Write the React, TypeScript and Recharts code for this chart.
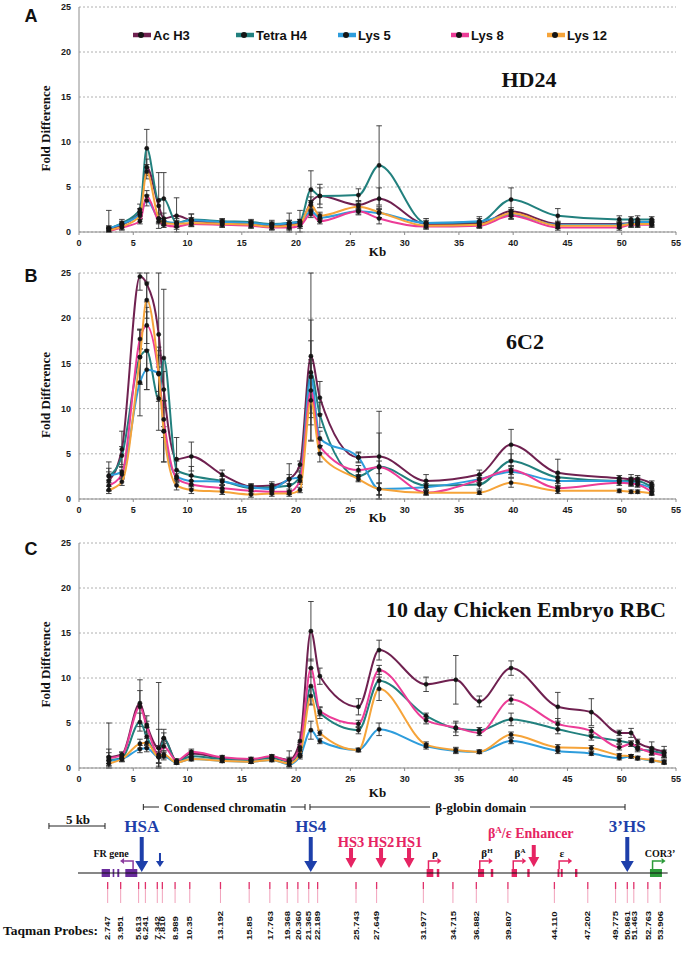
import React from 'react';
import {
  LineChart, Line, XAxis, YAxis, CartesianGrid, ErrorBar,
  ScatterChart, Scatter, ReferenceLine, ReferenceArea,
} from 'recharts';

const F_SERIF = '"Liberation Serif","Times New Roman",serif';
const F_SANS = '"Liberation Sans",Arial,sans-serif';

// ---------- categories ----------
const seriesNames = ['Ac H3', 'Tetra H4', 'Lys 5', 'Lys 8', 'Lys 12'];
const seriesKeys = ['acH3', 'tetraH4', 'lys5', 'lys8', 'lys12'];
const seriesColors = ['#6F2150', '#22807E', '#2E9DDC', '#EC3C97', '#F6A43A'];
const xTicks = [0, 5, 10, 15, 20, 25, 30, 35, 40, 45, 50, 55];
const yTicks = [0, 5, 10, 15, 20, 25];
const Y_MAX = 25;

// ---------- probe positions (kb) ----------
const probeLabels = ['2.747', '3.951', '5.613', '6.241', '7.342', '7.810', '8.989', '10.35', '13.192', '15.85', '17.763', '19.368', '20.360', '21.365', '22.189', '25.743', '27.649', '31.977', '34.715', '36.882', '39.807', '44.110', '47.202', '49.775', '50.861', '51.463', '52.763', '53.906'];
const probeKb = probeLabels.map(Number);
const kbAB = [2.747, 3.951, 5.613, 6.241, 7.342, 7.81, 8.989, 10.35, 13.192, 15.85, 17.763, 19.368, 20.36, 21.365, 22.189, 25.743, 27.649, 31.977, 36.882, 39.807, 44.11, 49.775, 50.861, 51.463, 52.763];
const kbC = probeKb;

// ---------- panel A (HD24) ----------
const aAcH3 = [0.3, 0.8, 2.2, 7.2, 2.9, 1.5, 1.8, 1.3, 1.0, 0.9, 0.7, 0.8, 1.0, 3.3, 4.0, 3.0, 3.7, 0.9, 0.9, 2.3, 0.9, 0.9, 1.0, 1.0, 1.0];
const aTetraH4 = [0.4, 1.0, 2.5, 9.3, 3.5, 3.7, 1.0, 1.4, 1.2, 1.1, 0.9, 1.0, 1.2, 4.7, 4.0, 4.1, 7.4, 1.0, 1.1, 3.6, 1.8, 1.4, 1.4, 1.4, 1.4];
const aLys5 = [0.4, 0.9, 2.0, 3.5, 1.5, 1.2, 1.0, 1.3, 1.1, 1.0, 0.8, 1.0, 1.1, 2.3, 1.6, 2.3, 2.1, 1.0, 1.2, 1.9, 0.8, 0.8, 1.0, 1.1, 1.1];
const aLys8 = [0.1, 0.5, 1.2, 4.0, 1.2, 0.8, 0.6, 0.9, 0.8, 0.7, 0.5, 0.5, 0.7, 2.0, 1.2, 2.3, 1.5, 0.6, 0.7, 1.8, 0.5, 0.5, 0.8, 0.8, 0.8];
const aLys12 = [0.2, 0.6, 1.8, 6.7, 1.5, 1.0, 0.9, 1.0, 0.9, 0.8, 0.6, 0.7, 0.9, 3.0, 1.8, 2.8, 2.2, 0.7, 0.8, 2.1, 0.7, 0.7, 0.9, 0.9, 0.9];
const aAcH3Err = [0.3, 0.3, 0.4, 0.9, 0.8, 0.6, 2.0, 0.7, 0.3, 0.3, 0.4, 0.5, 0.4, 0.6, 1.3, 0.5, 1.2, 0.3, 0.3, 0.4, 0.3, 0.3, 0.3, 0.3, 0.3];
const aTetraH4Err = [2.0, 0.4, 0.6, 2.1, 3.1, 2.9, 0.5, 0.6, 0.3, 0.3, 0.4, 1.1, 1.2, 2.1, 0.9, 0.7, 4.4, 0.5, 0.6, 1.3, 0.8, 0.4, 0.3, 0.4, 0.3];
const aLys5Err = [0.3, 0.3, 0.3, 0.6, 0.4, 0.3, 0.3, 0.3, 0.3, 0.3, 0.3, 0.3, 0.3, 0.5, 0.4, 0.4, 0.5, 0.3, 0.3, 0.4, 0.3, 0.3, 0.3, 0.3, 0.3];
const aLys8Err = [0.3, 0.3, 0.3, 0.6, 0.3, 0.3, 0.3, 0.3, 0.3, 0.3, 0.3, 0.3, 0.3, 0.4, 0.3, 0.3, 0.6, 0.3, 0.3, 0.4, 0.3, 0.3, 0.3, 0.3, 0.3];
const aLys12Err = [0.3, 0.3, 0.4, 0.8, 0.5, 0.3, 0.3, 0.3, 0.3, 0.3, 0.3, 0.3, 0.3, 0.5, 0.4, 0.4, 0.6, 0.3, 0.3, 0.4, 0.3, 0.3, 0.3, 0.3, 0.3];

// ---------- panel B (6C2) ----------
const bAcH3 = [2.0, 5.5, 24.6, 23.8, 18.2, 12.1, 4.4, 4.7, 2.7, 1.4, 1.5, 2.2, 3.8, 15.8, 11.2, 4.6, 4.7, 2.0, 2.7, 6.0, 2.9, 2.3, 2.2, 2.2, 1.7];
const bTetraH4 = [2.5, 4.8, 15.7, 16.4, 11.1, 15.6, 3.2, 2.6, 2.0, 1.2, 1.3, 1.5, 2.5, 14.0, 9.3, 2.5, 3.6, 1.5, 1.6, 4.2, 2.4, 2.0, 2.0, 2.0, 1.3];
const bLys5 = [2.6, 3.0, 12.9, 14.3, 13.9, 7.5, 2.5, 2.0, 1.9, 1.3, 1.1, 2.2, 2.4, 13.5, 6.7, 4.6, 1.1, 1.3, 2.2, 3.0, 2.0, 2.0, 1.8, 1.7, 1.2];
const bLys8 = [1.5, 2.7, 17.7, 19.2, 13.8, 8.8, 2.3, 1.6, 1.2, 0.9, 0.8, 0.8, 2.0, 12.0, 5.8, 3.2, 3.5, 0.7, 2.1, 3.2, 1.2, 1.8, 1.7, 1.6, 0.8];
const bLys12 = [1.0, 1.9, 15.7, 22.0, 13.9, 7.5, 1.5, 1.0, 0.8, 0.5, 0.6, 0.6, 1.0, 10.9, 5.0, 2.2, 1.1, 0.7, 0.7, 1.8, 0.9, 0.9, 0.8, 0.8, 0.6];
const bAcH3Err = [1.0, 2.0, 1.5, 2.0, 6.8, 2.0, 2.4, 1.6, 0.5, 0.3, 0.4, 0.5, 0.4, 9.3, 1.8, 0.6, 5.0, 0.7, 0.5, 1.7, 1.5, 0.3, 0.5, 0.4, 0.3];
const bTetraH4Err = [1.6, 1.0, 3.0, 4.3, 3.5, 7.6, 1.0, 1.0, 0.5, 0.3, 0.4, 0.8, 0.7, 5.8, 1.4, 0.5, 3.7, 0.5, 0.5, 0.8, 0.4, 0.3, 0.4, 0.4, 0.3];
const bLys5Err = [0.8, 0.6, 3.7, 2.2, 2.0, 3.4, 0.6, 0.5, 0.3, 0.3, 0.3, 1.7, 0.6, 4.0, 0.8, 0.5, 0.6, 0.4, 0.4, 0.6, 0.3, 0.3, 0.3, 0.3, 0.3];
const bLys8Err = [0.6, 0.5, 1.1, 2.0, 3.0, 2.0, 0.5, 0.4, 0.3, 0.3, 0.3, 0.3, 0.4, 3.0, 0.7, 0.5, 0.7, 0.3, 0.3, 0.5, 0.3, 0.3, 0.3, 0.3, 0.3];
const bLys12Err = [0.4, 0.4, 3.0, 2.0, 2.5, 3.4, 0.5, 0.4, 0.3, 0.3, 0.3, 0.3, 0.3, 4.5, 0.9, 0.3, 0.7, 0.2, 0.2, 0.5, 0.3, 0.2, 0.2, 0.2, 0.2];

// ---------- panel C (10 day Chicken Embryo RBC) ----------
const cAcH3 = [1.2, 1.5, 7.2, 4.8, 2.2, 3.3, 0.8, 1.6, 1.1, 0.9, 1.2, 0.9, 3.0, 15.2, 10.2, 6.8, 13.1, 9.3, 9.8, 7.4, 11.1, 6.8, 6.2, 3.9, 3.9, 2.9, 2.2, 1.8];
const cTetraH4 = [0.9, 1.1, 5.1, 3.5, 1.3, 3.3, 0.7, 1.3, 1.0, 0.9, 1.1, 0.7, 2.0, 9.1, 6.1, 4.2, 9.7, 5.8, 4.4, 4.2, 5.4, 4.3, 3.5, 3.0, 2.7, 2.1, 1.9, 1.6];
const cLys5 = [0.8, 1.0, 2.1, 2.2, 1.2, 1.3, 0.6, 1.0, 0.8, 0.7, 0.9, 0.4, 1.3, 4.2, 3.0, 2.0, 4.3, 2.4, 1.9, 1.8, 3.0, 1.9, 1.6, 1.1, 1.3, 1.1, 0.8, 0.7];
const cLys8 = [1.1, 1.4, 6.8, 4.6, 1.5, 2.4, 0.8, 1.8, 1.2, 1.0, 1.3, 0.8, 2.3, 11.1, 6.3, 4.9, 10.9, 5.3, 4.5, 3.9, 7.6, 4.9, 4.1, 2.3, 2.7, 2.3, 1.7, 1.4];
const cLys12 = [0.5, 1.0, 2.7, 2.8, 1.2, 1.5, 0.6, 1.0, 0.8, 0.7, 0.9, 0.5, 1.5, 8.0, 3.9, 2.0, 8.8, 2.6, 2.0, 1.8, 3.7, 2.3, 2.2, 1.4, 1.3, 1.1, 0.9, 0.6];
const cAcH3Err = [3.8, 0.3, 2.6, 1.0, 7.3, 1.0, 0.2, 0.3, 0.2, 0.2, 0.2, 1.0, 1.0, 3.3, 0.9, 0.9, 1.1, 0.8, 2.7, 0.6, 0.8, 1.6, 1.5, 0.3, 0.5, 0.3, 0.7, 0.6];
const cTetraH4Err = [1.2, 0.3, 1.0, 1.0, 3.0, 0.6, 0.2, 0.3, 0.2, 0.2, 0.2, 0.5, 0.6, 2.0, 0.6, 0.4, 1.0, 0.3, 0.8, 0.3, 0.7, 0.5, 0.4, 0.3, 0.3, 0.3, 0.4, 0.4];
const cLys5Err = [0.5, 0.3, 0.4, 0.4, 1.0, 0.4, 0.2, 0.2, 0.2, 0.2, 0.2, 0.3, 0.3, 1.0, 0.3, 0.2, 0.7, 0.3, 0.3, 0.2, 0.3, 0.3, 0.2, 0.2, 0.2, 0.2, 0.2, 0.2];
const cLys8Err = [0.6, 0.3, 1.8, 0.6, 1.0, 0.5, 0.2, 0.3, 0.2, 0.2, 0.2, 0.3, 0.5, 1.0, 0.5, 0.4, 0.5, 0.4, 0.5, 0.3, 0.5, 0.6, 0.4, 0.3, 0.3, 0.3, 0.3, 0.3];
const cLys12Err = [0.3, 0.3, 0.5, 0.5, 0.6, 0.4, 0.2, 0.2, 0.2, 0.2, 0.2, 0.3, 0.3, 1.0, 0.3, 0.2, 1.3, 0.3, 0.3, 0.2, 0.3, 0.3, 0.3, 0.2, 0.2, 0.2, 0.2, 0.2];

// ---------- genomic map features (kb) ----------
const blueSiteNames = ['HSA', 'HS4', '3\u2019HS'];
const blueSiteKb = [5.9, 21.55, 50.86];
const pinkSiteNames = ['HS3', 'HS2', 'HS1'];
const pinkSiteKb = [25.28, 28.06, 30.65];
const enhancerKb = [42.2];
const minorSiteKb = [7.59];
const frExons = [[2.19, 2.96], [3.21, 3.36], [3.64, 3.82], [4.38, 5.49]];
const globinExons = [[32.28, 32.9], [33.22, 33.45], [37.04, 37.6], [38.22, 38.45], [40.15, 40.65], [41.6, 41.82], [44.4, 44.58], [44.7, 44.88], [46.02, 46.24]];
const corExons = [[52.96, 54.07]];
const geneLabelBase = ['FR gene', '\u03C1', '\u03B2', '\u03B2', '\u03B5', 'COR3\u2019'];
const geneLabelSup = ['', '', 'H', 'A', '', ''];
const geneLabelKb = [3.06, 33.06, 37.87, 40.93, 44.8, 53.9];
const promoterKb = [5.1, 32.45, 37.2, 40.3, 44.55, 53.2];
const promoterDir = [-1, 1, 1, 1, 1, 1];
const promoterColor = ['#8B3A9E', '#E62463', '#E62463', '#E62463', '#E62463', '#2D9B3A'];
const bracketNames = ['Condensed chromatin', '\u03B2-globin domain'];
const bracketStart = [6.05, 21.48];
const bracketEnd = [21.02, 50.65];
const bracketTextKb = [13.6, 37.3];
const bracketGapStart = [7.5, 32.6];
const bracketGapEnd = [19.7, 41.85];

// error bars are cut at the plotted range (0..25), as in the original figure
function buildRows(kb: number[], values: number[][], errors: number[][]) {
  return kb.map((k, i) => {
    const row: any = { kb: k };
    seriesKeys.forEach((key, s) => {
      const v = values[s][i];
      const e = errors[s][i];
      row[key] = v;
      row[key + 'Err'] = [Math.min(e, v), Math.min(e, Y_MAX - v)];
    });
    return row;
  });
}

const rowsA = buildRows(kbAB, [aAcH3, aTetraH4, aLys5, aLys8, aLys12], [aAcH3Err, aTetraH4Err, aLys5Err, aLys8Err, aLys12Err]);
const rowsB = buildRows(kbAB, [bAcH3, bTetraH4, bLys5, bLys8, bLys12], [bAcH3Err, bTetraH4Err, bLys5Err, bLys8Err, bLys12Err]);
const rowsC = buildRows(kbC, [cAcH3, cTetraH4, cLys5, cLys8, cLys12], [cAcH3Err, cTetraH4Err, cLys5Err, cLys8Err, cLys12Err]);

const tickStyle = { fontSize: 9, fontWeight: 700, fill: '#1a1a1a', fontFamily: F_SANS };

function Panel({ rows, top, height, marginTop, axisHeight, kbDy }: any) {
  const kbLabel = (p: any) => {
    const vb = (p && p.viewBox) || { x: 79, y: height - axisHeight, width: 597, height: axisHeight };
    return (
      <text x={vb.x + vb.width / 2} y={vb.y + kbDy + 4.5} textAnchor="middle" fontFamily={F_SERIF} fontWeight={700} fontSize={13} fill="#111">Kb</text>
    );
  };
  const foldLabel = (p: any) => {
    const vb = (p && p.viewBox) || { x: 0, y: marginTop, width: 79, height: height - marginTop - axisHeight };
    const cy = vb.y + vb.height / 2 + 9;
    return (
      <text x={45} y={cy} transform={`rotate(-90 45 ${cy})`} textAnchor="middle" dominantBaseline="central" fontFamily={F_SERIF} fontWeight={700} fontSize={13} fill="#111">Fold Difference</text>
    );
  };
  return (
    <div style={{ position: 'absolute', left: 0, top, width: 693, height }}>
      <LineChart width={693} height={height} data={rows} margin={{ top: marginTop, right: 17, bottom: 0, left: 0 }}>
        <CartesianGrid vertical={false} stroke="#9c9c9c" strokeDasharray="2 2" strokeWidth={0.8} />
        <XAxis type="number" dataKey="kb" domain={[0, 55]} ticks={xTicks} allowDataOverflow height={axisHeight}
          tickSize={3} tickMargin={5} stroke="#8c8c8c" tick={tickStyle} label={kbLabel} />
        <YAxis type="number" domain={[0, Y_MAX]} ticks={yTicks} allowDataOverflow width={79}
          tickLine={false} stroke="#8c8c8c" tick={tickStyle} label={foldLabel} />
        {seriesKeys.map((key, s) => (
          <Line key={key} type="monotone" dataKey={key} name={seriesNames[s]} stroke={seriesColors[s]} strokeWidth={2}
            dot={{ r: 2.1, fill: '#151515', stroke: '#151515', strokeWidth: 0.5 }} activeDot={false} isAnimationActive={false}>
            <ErrorBar dataKey={key + 'Err'} width={2.8} stroke="#333" strokeWidth={0.9} isAnimationActive={false} />
          </Line>
        ))}
      </LineChart>
    </div>
  );
}

function arrowPts(cx: number, top: number, tip: number, sw: number, hw: number, hh: number) {
  return [
    [cx - sw / 2, top], [cx + sw / 2, top], [cx + sw / 2, tip - hh], [cx + hw / 2, tip - hh],
    [cx, tip], [cx - hw / 2, tip - hh], [cx - sw / 2, tip - hh],
  ].map((p) => p.join(',')).join(' ');
}

const BLUE = '#1D3FAA';
const PINK = '#E62463';

function GeneMap() {
  const probeRows = probeKb.map((kb, i) => ({ kb, y: 82, label: probeLabels[i] }));
  const blueRows = blueSiteKb.map((kb, i) => ({ kb, y: 72, name: blueSiteNames[i] }));
  const pinkRows = pinkSiteKb.map((kb, i) => ({ kb, y: 68, name: pinkSiteNames[i] }));
  const enhRows = enhancerKb.map((kb) => ({ kb, y: 67 }));
  const minorRows = minorSiteKb.map((kb) => ({ kb, y: 67 }));
  const geneRows = geneLabelKb.map((kb, i) => ({ kb, y: 57, base: geneLabelBase[i], sup: geneLabelSup[i] }));
  const promRows = promoterKb.map((kb, i) => ({ kb, y: 69, dir: promoterDir[i], color: promoterColor[i] }));
  const bracketRows = bracketTextKb.map((kb, i) => ({ kb, y: 7, name: bracketNames[i] }));
  const scaleRows = [{ kb: 0, y: 26 }];

  return (
    <div style={{ position: 'absolute', left: 0, top: 800, width: 693, height: 153 }}>
      <ScatterChart width={693} height={153} margin={{ top: 0, right: 21, bottom: 0, left: 24 }}>
        <XAxis type="number" dataKey="kb" domain={[-5, 55]} hide />
        <YAxis type="number" dataKey="y" domain={[0, 153]} reversed hide />
        {bracketNames.map((n, i) => (
          <React.Fragment key={n}>
            <ReferenceLine segment={[{ x: bracketStart[i], y: 7 }, { x: bracketGapStart[i], y: 7 }]} stroke="#222" strokeWidth={1} />
            <ReferenceLine segment={[{ x: bracketGapEnd[i], y: 7 }, { x: bracketEnd[i], y: 7 }]} stroke="#222" strokeWidth={1} />
            <ReferenceLine segment={[{ x: bracketStart[i], y: 4 }, { x: bracketStart[i], y: 10 }]} stroke="#222" strokeWidth={1} />
            <ReferenceLine segment={[{ x: bracketEnd[i], y: 4 }, { x: bracketEnd[i], y: 10 }]} stroke="#222" strokeWidth={1} />
          </React.Fragment>
        ))}
        <ReferenceLine segment={[{ x: -2.69, y: 26 }, { x: 2.5, y: 26 }]} stroke="#222" strokeWidth={1} />
        <ReferenceLine segment={[{ x: -2.69, y: 23 }, { x: -2.69, y: 29 }]} stroke="#222" strokeWidth={1} />
        <ReferenceLine segment={[{ x: 2.5, y: 23 }, { x: 2.5, y: 29 }]} stroke="#222" strokeWidth={1} />
        <ReferenceLine segment={[{ x: 0, y: 73 }, { x: 54.6, y: 73 }]} stroke="#111" strokeWidth={1.2} />
        {frExons.map((e, i) => (
          <ReferenceArea key={'fr' + i} x1={e[0]} x2={e[1]} y1={69} y2={77} fill="#6A2B9C" fillOpacity={1} stroke="none" />
        ))}
        {globinExons.map((e, i) => (
          <ReferenceArea key={'gl' + i} x1={e[0]} x2={e[1]} y1={69} y2={77} fill={PINK} fillOpacity={1} stroke="none" />
        ))}
        {corExons.map((e, i) => (
          <ReferenceArea key={'co' + i} x1={e[0]} x2={e[1]} y1={69} y2={77} fill="#2D9B3A" fillOpacity={1} stroke="none" />
        ))}
        <Scatter data={scaleRows} isAnimationActive={false} shape={(p: any) => (
          <text x={p.cx} y={p.cy - 2.5} textAnchor="middle" fontFamily={F_SERIF} fontWeight={700} fontSize={13} fill="#111">5 kb</text>
        )} />
        <Scatter data={bracketRows} isAnimationActive={false} shape={(p: any) => (
          <text x={p.cx} y={p.cy + 4.5} textAnchor="middle" fontFamily={F_SERIF} fontWeight={700} fontSize={13} fill="#111">{p.payload.name}</text>
        )} />
        <Scatter data={blueRows} isAnimationActive={false} shape={(p: any) => (
          <g>
            <polygon points={arrowPts(p.cx, p.cy - 35, p.cy, 4, 13, 11)} fill={BLUE} />
            <text x={p.cx} y={p.cy - 40} textAnchor="middle" fontFamily={F_SERIF} fontWeight={700} fontSize={17} fill={BLUE}>{p.payload.name}</text>
          </g>
        )} />
        <Scatter data={minorRows} isAnimationActive={false} shape={(p: any) => (
          <polygon points={arrowPts(p.cx, p.cy - 14, p.cy, 2, 8, 6)} fill={BLUE} />
        )} />
        <Scatter data={pinkRows} isAnimationActive={false} shape={(p: any) => (
          <g>
            <polygon points={arrowPts(p.cx, p.cy - 20, p.cy, 4, 11, 10)} fill={PINK} />
            <text x={p.cx} y={p.cy - 21} textAnchor="middle" fontFamily={F_SERIF} fontWeight={700} fontSize={14.5} fill={PINK}>{p.payload.name}</text>
          </g>
        )} />
        <Scatter data={enhRows} isAnimationActive={false} shape={(p: any) => (
          <g>
            <polygon points={arrowPts(p.cx, p.cy - 22, p.cy, 4, 11, 10)} fill={PINK} />
            <text x={p.cx - 3} y={p.cy - 29} textAnchor="middle" fontFamily={F_SERIF} fontWeight={700} fontSize={14} fill={PINK}>
              <tspan>{'\u03B2'}</tspan><tspan dy={-5} fontSize={9}>A</tspan><tspan dy={5}>{'/\u03B5 Enhancer'}</tspan>
            </text>
          </g>
        )} />
        <Scatter data={promRows} isAnimationActive={false} shape={(p: any) => {
          const d = p.payload.dir;
          const x0 = p.cx, y0 = p.cy, yt = p.cy - 8, x1 = p.cx + d * 9;
          return (
            <g>
              <polyline points={`${x0},${y0} ${x0},${yt} ${x1},${yt}`} fill="none" stroke={p.payload.color} strokeWidth={1.5} />
              <polygon points={`${x1 + d * 4},${yt} ${x1},${yt - 3} ${x1},${yt + 3}`} fill={p.payload.color} />
            </g>
          );
        }} />
        <Scatter data={geneRows} isAnimationActive={false} shape={(p: any) => (
          <text x={p.cx} y={p.cy} textAnchor="middle" fontFamily={F_SERIF} fontWeight={700} fontSize={p.payload.base.length > 2 ? 10 : 11} fill="#111">
            <tspan>{p.payload.base}</tspan>
            {p.payload.sup ? <tspan dy={-4} fontSize={7}>{p.payload.sup}</tspan> : null}
          </text>
        )} />
        <Scatter data={probeRows} isAnimationActive={false} shape={(p: any) => (
          <g>
            <line x1={p.cx} x2={p.cx} y1={p.cy} y2={p.cy + 7} stroke="#E0306A" strokeWidth={1.3} />
            <line x1={p.cx} x2={p.cx} y1={p.cy + 7} y2={p.cy + 21} stroke="#EE8AAA" strokeWidth={0.8} />
            <text transform={`translate(${p.cx + 2.7},${p.cy + 58}) rotate(-90) scale(1,0.78)`} fontSize={9.5} fontWeight={700} fontFamily={F_SANS} fill="#111">{p.payload.label}</text>
          </g>
        )} />
      </ScatterChart>
    </div>
  );
}

function Overlay() {
  const legendX = [133, 236, 338, 451, 547];
  return (
    <svg width={693} height={953} style={{ position: 'absolute', left: 0, top: 0, pointerEvents: 'none' }}>
      <text x={31} y={22} textAnchor="middle" fontFamily={F_SANS} fontWeight={700} fontSize={18} fill="#111">A</text>
      <text x={31} y={282} textAnchor="middle" fontFamily={F_SANS} fontWeight={700} fontSize={18} fill="#111">B</text>
      <text x={31} y={555} textAnchor="middle" fontFamily={F_SANS} fontWeight={700} fontSize={18} fill="#111">C</text>
      <text x={529} y={87} textAnchor="middle" fontFamily={F_SERIF} fontWeight={700} fontSize={22} fill="#111">HD24</text>
      <text x={525} y={349} textAnchor="middle" fontFamily={F_SERIF} fontWeight={700} fontSize={22} fill="#111">6C2</text>
      <text x={526} y={617} textAnchor="middle" fontFamily={F_SERIF} fontWeight={700} fontSize={22} fill="#111">10 day Chicken Embryo RBC</text>
      {seriesNames.map((n, i) => (
        <g key={n}>
          <line x1={legendX[i]} x2={legendX[i] + 18} y1={35} y2={35} stroke={seriesColors[i]} strokeWidth={4.5} />
          <circle cx={legendX[i] + 8} cy={35} r={3} fill="#151515" />
          <text x={legendX[i] + 20} y={39.5} fontFamily={F_SANS} fontWeight={700} fontSize={13} fill="#111">{n}</text>
        </g>
      ))}
      <text x={3} y={935} fontFamily={F_SERIF} fontWeight={700} fontSize={13.5} fill="#111">Taqman Probes:</text>
    </svg>
  );
}

export default function App() {
  return (
    <div style={{ position: 'absolute', left: 0, top: 0, width: 693, height: 953, background: '#fff', overflow: 'hidden' }}>
      <Panel rows={rowsA} top={0} height={260} marginTop={7} axisHeight={28} kbDy={19} />
      <Panel rows={rowsB} top={260} height={270} marginTop={13} axisHeight={31} kbDy={18} />
      <Panel rows={rowsC} top={530} height={270} marginTop={13} axisHeight={32} kbDy={24} />
      <GeneMap />
      <Overlay />
    </div>
  );
}
